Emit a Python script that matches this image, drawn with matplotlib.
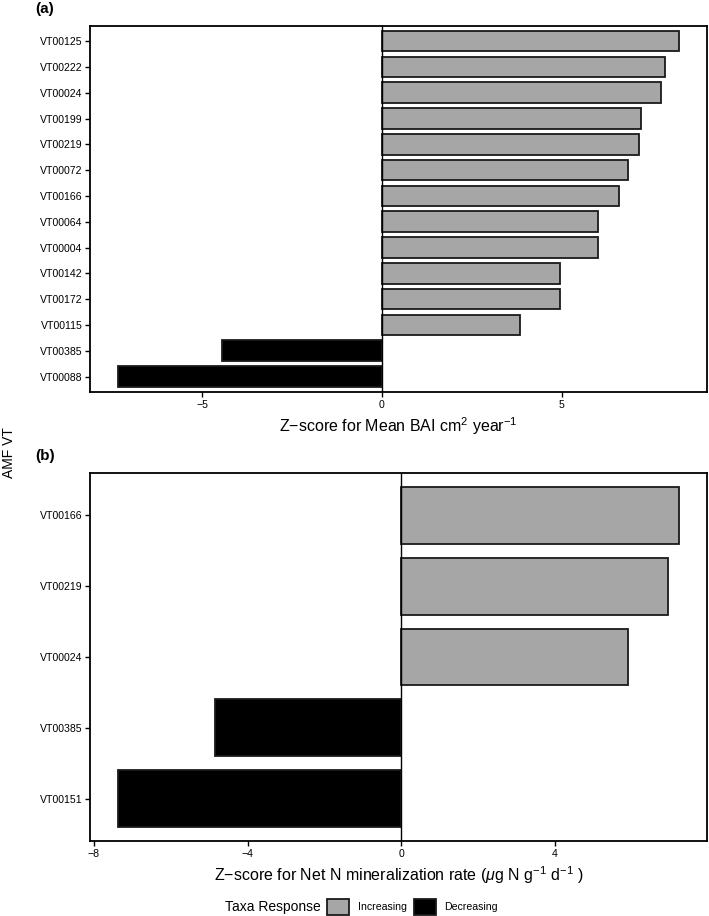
import matplotlib
matplotlib.use('Agg')
import matplotlib.pyplot as plt
from matplotlib.patches import Patch

plt.rcParams['font.family'] = ['Liberation Sans', 'DejaVu Sans']
plt.rcParams['mathtext.fontset'] = 'custom'
plt.rcParams['mathtext.rm'] = 'Liberation Sans'
plt.rcParams['mathtext.it'] = 'Liberation Sans:italic'
plt.rcParams['mathtext.default'] = 'regular'

#----データ (パネルa: 平均BAI)----
taxa_a = ['VT00125', 'VT00222', 'VT00024', 'VT00199', 'VT00219', 'VT00072', 'VT00166',
          'VT00064', 'VT00004', 'VT00142', 'VT00172', 'VT00115', 'VT00385', 'VT00088']
z_a = [8.26, 7.87, 7.76, 7.20, 7.15, 6.85, 6.60, 6.00, 6.00, 4.96, 4.94, 3.85, -4.44, -7.34]

#----データ (パネルb: 窒素無機化速度)----
taxa_b = ['VT00166', 'VT00219', 'VT00024', 'VT00385', 'VT00151']
z_b = [7.23, 6.94, 5.91, -4.84, -7.37]

col_inc = '#A6A6A6'
col_dec = '#000000'

W, H = 709, 916
fig = plt.figure(figsize=(W/100, H/100), dpi=100)

def fy(px):
    return 1 - px/H

def draw_panel(ax, names, vals, ticks, xlabel):
    n = len(names)
    cols = [col_inc if v > 0 else col_dec for v in vals]
    ax.barh(range(n), vals, height=0.8, color=cols, edgecolor='#1a1a1a', linewidth=1.3, zorder=2)
    ax.axvline(0, color='black', linewidth=1.0, zorder=3)
    ax.set_ylim(n - 1 + 0.6, -0.6)
    lo, hi = min(min(vals), 0), max(max(vals), 0)
    pad = 0.05*(hi - lo)
    ax.set_xlim(lo - pad, hi + pad)
    ax.set_yticks(range(n))
    ax.set_yticklabels(names, fontsize=7.6)
    ax.set_xticks(ticks)
    ax.set_xticklabels([('\u2212' + str(abs(t))) if t < 0 else str(t) for t in ticks], fontsize=7.6)
    ax.tick_params(length=3.5, width=1.0, colors='black', pad=2)
    for s in ax.spines.values():
        s.set_linewidth(1.3)
    ax.set_xlabel(xlabel, fontsize=11.5, labelpad=4)

ax_a = fig.add_axes([90/W, fy(392), (707-90)/W, (392-25.7)/H])
draw_panel(ax_a, taxa_a, z_a, [-5, 0, 5], 'Z\u2212score for Mean BAI cm$^2$ year$^{-1}$')

ax_b = fig.add_axes([90/W, fy(841), (707-90)/W, (841-473)/H])
draw_panel(ax_b, taxa_b, z_b, [-8, -4, 0, 4],
           'Z\u2212score for Net N mineralization rate ($\\mathit{\\mu}$g N g$^{-1}$ d$^{-1}$ )')

fig.text(35/W, fy(9), '(a)', fontsize=11, fontweight='bold', va='center', ha='left')
fig.text(35/W, fy(456), '(b)', fontsize=11, fontweight='bold', va='center', ha='left')
fig.text(9/W, fy(453), 'AMF VT', fontsize=10, rotation=90, va='center', ha='center')

#----凡例----
fig.text(321/W, fy(907), 'Taxa Response', fontsize=10, va='center', ha='right')
handles = [Patch(facecolor=col_inc, edgecolor='#1a1a1a', linewidth=1.3, label='Increasing'),
           Patch(facecolor=col_dec, edgecolor='#1a1a1a', linewidth=1.3, label='Decreasing')]
fig.legend(handles=handles, loc='center left', bbox_to_anchor=(327/W, fy(907)), ncol=2,
           frameon=False, fontsize=7.6, handlelength=2.1, handleheight=1.9,
           handletextpad=0.8, columnspacing=0.7, borderpad=0, borderaxespad=0)

fig.savefig('out.png', dpi=100)
